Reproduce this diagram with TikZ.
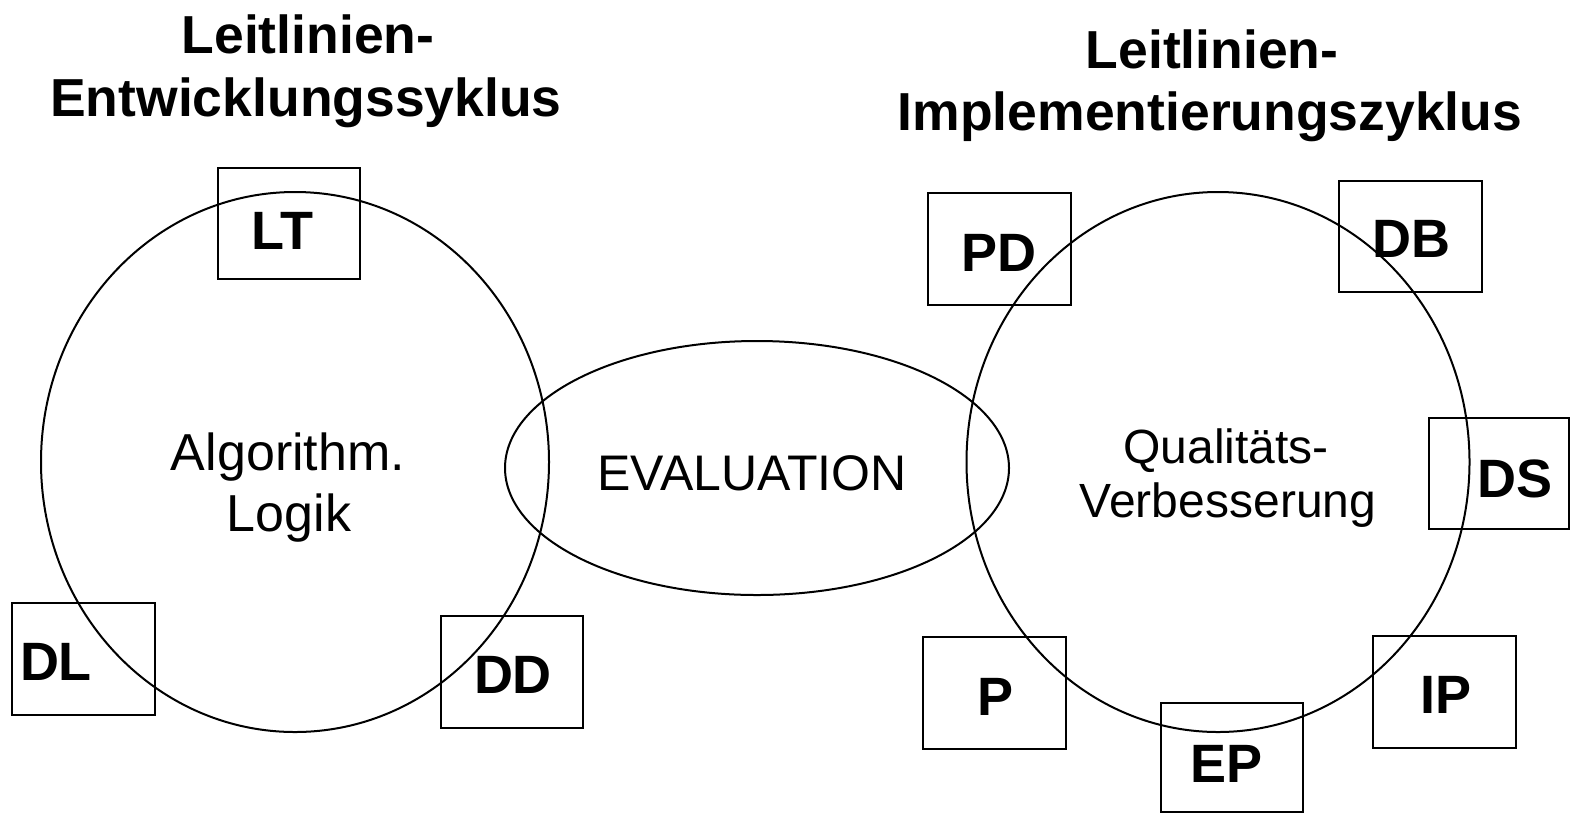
\documentclass[tikz,border=0pt]{standalone}
\usepackage{fontspec}
\setmainfont{Liberation Sans}
\usetikzlibrary{shapes.geometric}
\tikzset{
  ring/.style={draw, ellipse, line width=2pt, inner sep=0pt},
  tag/.style={draw, rectangle, line width=2pt, inner sep=0pt},
  tagtext/.style={anchor=base, inner sep=0pt, font=\bfseries\fontsize{54}{60}\selectfont},
  titletext/.style={anchor=base, inner sep=0pt, font=\bfseries\fontsize{53.5}{60}\selectfont},
  lefttext/.style={anchor=base, inner sep=0pt, font=\fontsize{52}{60}\selectfont},
  righttext/.style={anchor=base, inner sep=0pt, font=\fontsize{48}{56}\selectfont}
}
\begin{document}
\begin{tikzpicture}[x=1pt,y=-1pt]
\useasboundingbox (0,0) rectangle (1573,815);
% titles
\node[titletext] (t1a) at (308,53) {Leitlinien-};
\node[titletext] (t1b) at (306,116) {Entwicklungssyklus};
\node[titletext] (t2a) at (1212,68) {Leitlinien-};
\node[titletext] (t2b) at (1210,130) {Implementierungszyklus};
% big shapes
\node[ring, minimum width=508pt, minimum height=540pt] (lc) at (295,462) {};
\node[ring, minimum width=504pt, minimum height=254pt] (ev) at (757,468) {};
\node[ring, minimum width=503pt, minimum height=540pt] (rc) at (1218,462) {};
% inner texts
\node[lefttext] (alg) at (288,470) {Algorithm.};
\node[lefttext] (log) at (289,531) {Logik};
\node[anchor=base, inner sep=0pt, font=\fontsize{50}{56}\selectfont] (eva) at (752,490) {EVALUATION};
\node[righttext] (qa) at (1226,463) {Qualitäts-};
\node[righttext] (vb) at (1228,517) {Verbesserung};
% boxes
\node[tag, minimum width=142pt, minimum height=111pt] (bLT) at (288.5,223.5) {};
\node[tag, minimum width=143pt, minimum height=112pt] (bDL) at (83.5,659) {};
\node[tag, minimum width=142pt, minimum height=112pt] (bDD) at (511.5,671.5) {};
\node[tag, minimum width=143pt, minimum height=112pt] (bPD) at (999,249) {};
\node[tag, minimum width=143pt, minimum height=111pt] (bDB) at (1410,236.5) {};
\node[tag, minimum width=140pt, minimum height=111pt] (bDS) at (1499,473.5) {};
\node[tag, minimum width=143pt, minimum height=112pt] (bP) at (994,693) {};
\node[tag, minimum width=143pt, minimum height=112pt] (bIP) at (1444.5,692) {};
\node[tag, minimum width=142pt, minimum height=109pt] (bEP) at (1232,757.5) {};
% box labels
\node[tagtext] (LT) at (282.5,249) {LT};
\node[tagtext] (DL) at (56,680) {DL};
\node[tagtext] (DD) at (513,693) {DD};
\node[tagtext] (PD) at (999,271) {PD};
\node[tagtext] (DB) at (1411,257) {DB};
\node[tagtext] (DS) at (1515,497) {DS};
\node[tagtext] (P) at (995,715) {P};
\node[tagtext] (IP) at (1446,713) {IP};
\node[tagtext] (EP) at (1226,782) {EP};
\end{tikzpicture}
\end{document}
